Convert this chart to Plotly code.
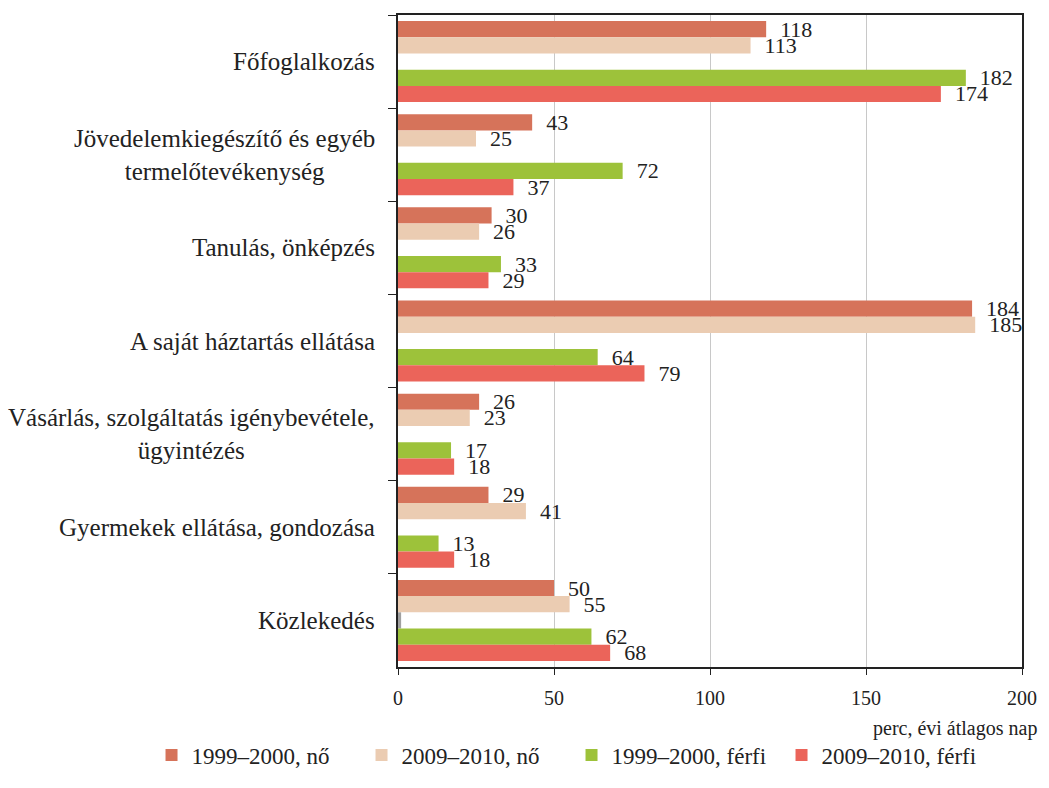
import plotly.graph_objects as go

categories = [
    "Főfoglalkozás",
    "Jövedelemkiegészítő és egyéb<br>termelőtevékenység",
    "Tanulás, önképzés",
    "A saját háztartás ellátása",
    "Vásárlás, szolgáltatás igénybevétele,<br>ügyintézés",
    "Gyermekek ellátása, gondozása",
    "Közlekedés",
]
cat_keys = ["c%d" % i for i in range(len(categories))]

no_1999 = [118, 43, 30, 184, 26, 29, 50]
no_2009 = [113, 25, 26, 185, 23, 41, 55]
gap_vals = [0, 0, 0, 0, 0, 0, 1]
ferfi_1999 = [182, 72, 33, 64, 17, 13, 62]
ferfi_2009 = [174, 37, 29, 79, 18, 18, 68]

series = [
    ("1999–2000, nő", no_1999, "#D6735A", True),
    ("2009–2010, nő", no_2009, "#EBCCB2", True),
    ("", gap_vals, "#A0A0A0", False),
    ("1999–2000, férfi", ferfi_1999, "#9DC23A", True),
    ("2009–2010, férfi", ferfi_2009, "#EB645A", True),
]

FONT = "Liberation Serif"
PAD = "\u00a0\u00a0"

fig = go.Figure()
for name, vals, color, show in series:
    fig.add_trace(go.Bar(
        y=cat_keys, x=vals, orientation="h", name=name,
        marker=dict(color=color, line=dict(width=0)),
        text=[PAD + str(v) for v in vals] if show else None,
        textposition="outside" if show else "none",
        constraintext="none",
        textfont=dict(family=FONT, size=22, color="#222"),
        cliponaxis=False,
        showlegend=show,
    ))

annotations = []
for key, label in zip(cat_keys, categories):
    annotations.append(dict(
        x=-0.034, xref="paper", y=key, yref="y", text=label,
        showarrow=False, xanchor="right", yanchor="middle", align="center",
        font=dict(family=FONT, size=25, color="#222"),
    ))
annotations.append(dict(
    x=1.027, xref="paper", y=-0.095, yref="paper", text="perc, évi átlagos nap",
    showarrow=False, xanchor="right", yanchor="middle",
    font=dict(family=FONT, size=20, color="#222"),
))

fig.update_layout(
    width=1049, height=788,
    margin=dict(l=398, r=21, t=15, b=120),
    paper_bgcolor="white", plot_bgcolor="white",
    barmode="group", bargap=0.13, bargroupgap=0.0,
    font=dict(family=FONT, size=20, color="#222"),
    annotations=annotations,
    legend=dict(
        orientation="h", xref="paper", yref="paper",
        x=-0.395, xanchor="left", y=-0.168, yanchor="bottom",
        font=dict(family=FONT, size=23, color="#222"),
        traceorder="normal", itemwidth=30,
        entrywidth=165, entrywidthmode="pixels",
    ),
)
fig.update_xaxes(
    range=[0, 200], tickvals=[0, 50, 100, 150, 200],
    showgrid=True, gridcolor="#C8C8C8", gridwidth=1,
    showline=True, linecolor="#222", linewidth=2, mirror=True,
    ticks="outside", ticklen=6, tickcolor="#222", ticklabelstandoff=6,
    tickfont=dict(family=FONT, size=20, color="#222"),
    zeroline=False,
)
fig.update_yaxes(
    autorange="reversed", showticklabels=False,
    showline=True, linecolor="#222", linewidth=2, mirror=True,
    ticks="outside", ticklen=8, tickcolor="#222", tickson="boundaries",
    showgrid=False,
)

fig.write_html("out.html", config={"displayModeBar": False},
               post_script="document.body.style.margin='0';")
